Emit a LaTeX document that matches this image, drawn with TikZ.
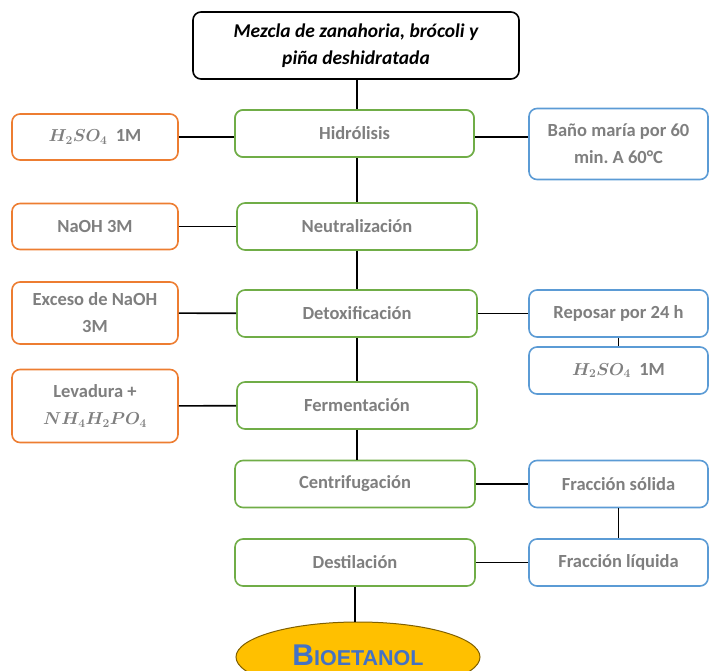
\documentclass[tikz,border=0pt]{standalone}
\usepackage{amsmath,bm}
\usepackage{fontspec}
\setmainfont{Carlito}
\newfontfamily\titlefont{Liberation Sans}
\usepackage{xcolor}
\usepackage{tikz}
\usetikzlibrary{positioning,shapes.geometric}
\definecolor{flowgreen}{HTML}{70AD47}
\definecolor{floworange}{HTML}{ED7D31}
\definecolor{flowblue}{HTML}{5B9BD5}
\definecolor{flowgray}{HTML}{7F7F7F}
\definecolor{flowgold}{HTML}{FFC000}
\definecolor{flowtitle}{HTML}{4472C4}
\tikzset{
  link/.style={line width=1.6pt,black},
  basebox/.style={rounded corners=8pt,line width=1.6pt,fill=white,align=center,inner sep=2pt,
    text=flowgray,font=\fontsize{18.5}{27}\selectfont\bfseries},
  startbox/.style={basebox,draw=black,text=black,font=\fontsize{19.5}{27}\selectfont\bfseries\itshape,
    minimum width=326pt,minimum height=67pt},
  greenbox/.style={basebox,draw=flowgreen,minimum width=240pt,minimum height=47pt},
  orangebox/.style={basebox,draw=floworange,minimum width=166pt,minimum height=46pt},
  bluebox/.style={basebox,draw=flowblue,minimum width=179pt,minimum height=47pt},
  endnode/.style={ellipse,draw=flowgold!50!black,fill=flowgold,line width=1pt,
    minimum width=244pt,minimum height=70pt,text=flowtitle}
}

\begin{document}
\begin{tikzpicture}[x=1pt,y=-1pt]
  \useasboundingbox (0,0) rectangle (710,670);
  % main chain
  \node[startbox] (mezcla) at (356,45.5) {Mezcla de zanahoria, brócoli y\\piña deshidratada};
  \node[greenbox,minimum width=239pt] (hidrolisis) at (354.5,133.5) {Hidrólisis};
  \node[greenbox] (neutra) at (357,226.5) {Neutralización};
  \node[greenbox] (detox) at (357,313.5) {Detoxificación};
  \node[greenbox] (ferment) at (357,405.5) {Fermentación};
  \node[greenbox] (centri) at (355,484) {Centrifugación};
  \node[greenbox] (destila) at (355,562.5) {Destilación};
  \node[endnode] (bioetanol) at (358,657)
    {\raisebox{3pt}{\titlefont\bfseries\fontsize{30}{32}\selectfont B\fontsize{21.5}{24}\selectfont IOETANOL}};
  % reactivos
  \node[orangebox] (acido) at (95,137) {$\bm{H_2SO_4}$\ \ 1M};
  \node[orangebox] (sosa) at (95,226.5) {NaOH 3M};
  \node[orangebox,minimum height=62pt] (exceso) at (95,313) {Exceso de NaOH\\3M};
  \node[orangebox,minimum height=73pt] (levadura) at (95,406) {Levadura +\\$\bm{NH_4H_2PO_4}$};
  % condiciones
  \node[bluebox,minimum height=71pt] (bano) at (618.5,144) {Baño maría por 60\\min.\ A 60°C};
  \node[bluebox] (reposo) at (618.5,313.5) {Reposar por 24 h};
  \node[bluebox] (acidob) at (618.5,370.5) {$\bm{H_2SO_4}$\ \ 1M};
  \node[bluebox] (solida) at (618.5,484) {Fracción sólida};
  \node[bluebox] (liquida) at (618.5,562.5) {Fracción líquida};
  % conexiones
  \draw[link] (mezcla.south -| 357,0) -- (hidrolisis.south -| 357,0) -- (neutra);
  \draw[link] (neutra) -- (detox);
  \draw[link] (detox) -- (ferment);
  \draw[link] (ferment.south) -- (ferment.south |- centri.north);
  \draw[link] (destila) -- (destila |- bioetanol.north);
  \draw[link] (acido.east) -- (acido.east -| hidrolisis.west);
  \draw[link] (hidrolisis.east |- acido.east) -- (bano.west |- acido.east);
  \draw[link] (sosa) -- (neutra);
  \draw[link] (exceso) -- (detox);
  \draw[link] (detox) -- (reposo);
  \draw[link] (reposo) -- (acidob);
  \draw[link] (levadura) -- (ferment);
  \draw[link] (centri) -- (solida);
  \draw[link] (solida) -- (liquida);
  \draw[link] (liquida.west) -- (liquida.west -| destila.east);
  % redraw boxes over links
  \node[greenbox,minimum width=239pt] at (hidrolisis) {Hidrólisis};
\end{tikzpicture}
\end{document}
